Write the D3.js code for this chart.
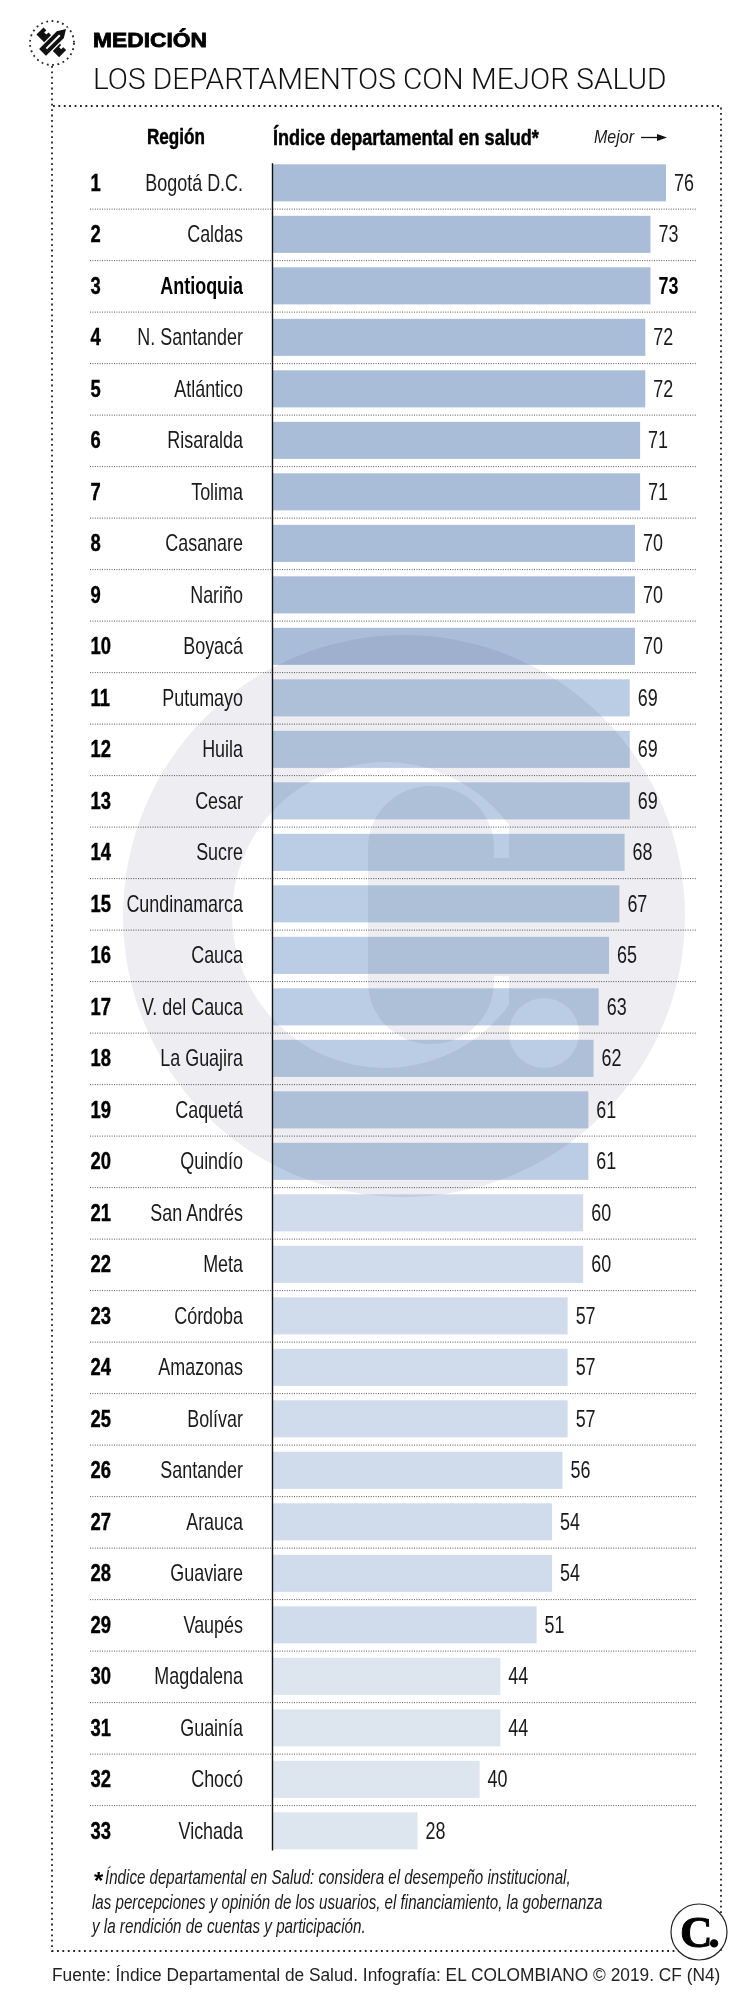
<!DOCTYPE html>
<html>
<head>
<meta charset="utf-8">
<script src="https://cdn.jsdelivr.net/npm/d3@7"></script>
<style>
    html, body { margin: 0; padding: 0; background: #fff; }
    svg { display: block; }
    text { font-family: "Liberation Sans", sans-serif; fill: #1a1a1a; }
    .rank { font-weight: bold; font-size: 23px; fill: #000; stroke: #000; stroke-width: 0.4; }
    .label, .value { font-size: 23px; }
    .bold { font-weight: bold; fill: #000; }
    .sep { stroke: #555; stroke-width: 1; stroke-dasharray: 1 1.4; }
    .frame { stroke: #222; stroke-width: 1.8; stroke-dasharray: 1.8 3.6; fill: none; }
</style>
</head>
<body>
<svg id="chart" width="756" height="2000"></svg>
<script>
var regions = ["Bogotá D.C.", "Caldas", "Antioquia", "N. Santander", "Atlántico", "Risaralda", "Tolima",
    "Casanare", "Nariño", "Boyacá", "Putumayo", "Huila", "Cesar", "Sucre", "Cundinamarca", "Cauca",
    "V. del Cauca", "La Guajira", "Caquetá", "Quindío", "San Andrés", "Meta", "Córdoba", "Amazonas",
    "Bolívar", "Santander", "Arauca", "Guaviare", "Vaupés", "Magdalena", "Guainía", "Chocó", "Vichada"];
var values = [76, 73, 73, 72, 72, 71, 71, 70, 70, 70, 69, 69, 69, 68, 67, 65, 63, 62, 61, 61, 60, 60,
    57, 57, 57, 56, 54, 54, 51, 44, 44, 40, 28];
var highlighted = "Antioquia";
var footnote = [
    "Índice departamental en Salud: considera el desempeño institucional,",
    "las percepciones y opinión de los usuarios, el financiamiento, la gobernanza",
    "y la rendición de cuentas y participación."
];

var svg = d3.select("#chart");

var x = d3.scaleLinear().domain([0, 76]).range([272.5, 666]);
var y = d3.scaleBand().domain(regions).range([157.1, 1856.6]).paddingInner(0.28).paddingOuter(0.14);
var color = d3.scaleThreshold().domain([10, 20, 29]).range(["#a9bdd9", "#bbcde4", "#d0dcec", "#dde5ef"]);

// condensed look: no narrow font here, so squeeze the text
function narrow(sel, px, py, sx) {
    return sel.attr("transform", function (d, i) {
        var a = typeof px === "function" ? px(d, i) : px,
            b = typeof py === "function" ? py(d, i) : py;
        return "translate(" + a + "," + b + ") scale(" + sx + ",1)";
    });
}

// squeeze one text to a given width
function fit(sel, px, py, w) {
    return narrow(sel, px, py, w / sel.node().getComputedTextLength());
}

// frame
svg.append("path").attr("class", "frame").attr("d", "M52,66V1951H721V106H52");

// icon
var icon = svg.append("g").attr("transform", "translate(52,43)");
icon.append("circle").attr("r", 22).attr("class", "frame").style("fill", "#fff");
icon.append("path").attr("d", "M-5,-16H5V-12H2V-9H5V-5H2V-2H5V2H2V5H5V9H2V12H5V16H-5Z")
    .attr("transform", "rotate(-45) translate(0,-1)").attr("fill", "#111");
icon.append("path").attr("d", "M-5.5,-11L0,-20L5.5,-11V15H-5.5Z")
    .attr("transform", "rotate(45) translate(0,-1)").attr("fill", "#111").attr("stroke", "#fff").attr("stroke-width", 1.2);
icon.append("path").attr("d", "M0,-10V9")
    .attr("transform", "rotate(45) translate(0,-1)").attr("stroke", "#fff").attr("stroke-width", 2);

// titles
fit(svg.append("text")
    .style("font-weight", "bold").style("font-size", "21px").style("fill", "#000")
    .attr("stroke", "#000").attr("stroke-width", 0.8)
    .text("MEDICIÓN"), 93, 47, 114);
fit(svg.append("text")
    .style("font-family", "Roboto").style("font-weight", 300).style("font-size", "30px").style("fill", "#111")
    .text("LOS DEPARTAMENTOS CON MEJOR SALUD"), 93, 89, 574);

// headers
fit(svg.append("text").attr("class", "bold").style("font-size", "22px")
    .attr("stroke", "#000").attr("stroke-width", 0.5)
    .text("Región"), 147, 144, 58);
fit(svg.append("text").attr("class", "bold").style("font-size", "22px")
    .attr("stroke", "#000").attr("stroke-width", 0.5)
    .text("Índice departamental en salud*"), 273, 145, 266);
fit(svg.append("text").style("font-size", "18px").style("font-style", "italic")
    .text("Mejor"), 594, 143, 40);
svg.append("path").attr("d", "M641,137.5H660").attr("stroke", "#111").attr("stroke-width", 1.3);
svg.append("path").attr("d", "M657,134L667,137.5L657,141Z").attr("fill", "#111");

// separators
var sepY = function (d) { return y(d) - y.step() * 0.13; };
svg.selectAll(".sep").data(regions.slice(1)).enter().append("line")
    .attr("class", "sep")
    .attr("x1", 90).attr("x2", 696)
    .attr("y1", sepY)
    .attr("y2", sepY);

// bars
svg.selectAll(".bar").data(regions).enter().append("rect")
    .attr("class", "bar")
    .attr("x", x(0))
    .attr("y", function (d) { return y(d); })
    .attr("width", function (d, i) { return x(values[i]) - x(0); })
    .attr("height", y.bandwidth())
    .attr("fill", function (d, i) { return color(i); });

// axis line
svg.append("line").attr("x1", x(0)).attr("x2", x(0))
    .attr("y1", y(regions[0]) - 1).attr("y2", y(regions[regions.length - 1]) + y.bandwidth() + 1)
    .attr("stroke", "#111").attr("stroke-width", 1.4);

// row labels
var mid = function (d) { return y(d) + y.bandwidth() / 2 + 8; };

narrow(svg.selectAll(".rank").data(regions).enter().append("text")
    .attr("class", "rank")
    .text(function (d, i) { return i + 1; }), 90.5, mid, 0.8);

narrow(svg.selectAll(".label").data(regions).enter().append("text")
    .attr("class", function (d) { return d === highlighted ? "label bold" : "label"; })
    .attr("text-anchor", "end")
    .text(function (d) { return d; }), 243, mid, 0.78);

narrow(svg.selectAll(".value").data(regions).enter().append("text")
    .attr("class", function (d) { return d === highlighted ? "value bold" : "value"; })
    .text(function (d, i) { return values[i]; }), function (d, i) { return x(values[i]) + 8; }, mid, 0.78);

// watermark
var mark = svg.append("g").style("mix-blend-mode", "multiply").style("isolation", "isolate");
mark.append("circle").attr("cx", 404).attr("cy", 916).attr("r", 281).attr("fill", "#eeeef2");
var clip = svg.append("clipPath").attr("id", "letter");
clip.append("rect").attr("x", 200).attr("y", 700).attr("width", 309).attr("height", 420);
mark.append("circle").attr("cx", 385).attr("cy", 915).attr("r", 153).attr("fill", "#fff").attr("clip-path", "url(#letter)");
mark.append("rect").attr("x", 368).attr("y", 786).attr("width", 126).attr("height", 258).attr("rx", 62).attr("fill", "#eeeef2");
mark.append("rect").attr("x", 490).attr("y", 858).attr("width", 30).attr("height", 118).attr("fill", "#eeeef2");
mark.append("circle").attr("cx", 544).attr("cy", 1033).attr("r", 35).attr("fill", "#fff");

// footnote
var note = svg.append("g");
var noteX = [105, 92, 92], noteW = [466, 511, 274];
note.append("text").attr("x", 93).attr("y", 1889).attr("class", "bold").style("font-size", "24px").style("font-style", "italic").text("*");
footnote.forEach(function (line, i) {
    fit(note.append("text")
        .style("font-size", "20px").style("font-style", "italic")
        .text(line), noteX[i], 1884 + i * 24.5, noteW[i]);
});

// logo
svg.append("circle").attr("cx", 699).attr("cy", 1932).attr("r", 28).attr("fill", "#fff").attr("stroke", "#222").attr("stroke-width", 1.2);
svg.append("text").attr("x", 680).attr("y", 1947)
    .style("font-family", "'Liberation Serif'").style("font-weight", "bold").style("font-size", "45px").style("fill", "#000")
    .attr("stroke", "#000").attr("stroke-width", 1).attr("letter-spacing", -4).text("C.");

// source
fit(svg.append("text")
    .style("font-size", "18.5px").style("fill", "#222")
    .text("Fuente: Índice Departamental de Salud. Infografía: EL COLOMBIANO © 2019. CF (N4)"), 52, 1981, 669);
</script>
</body>
</html>
